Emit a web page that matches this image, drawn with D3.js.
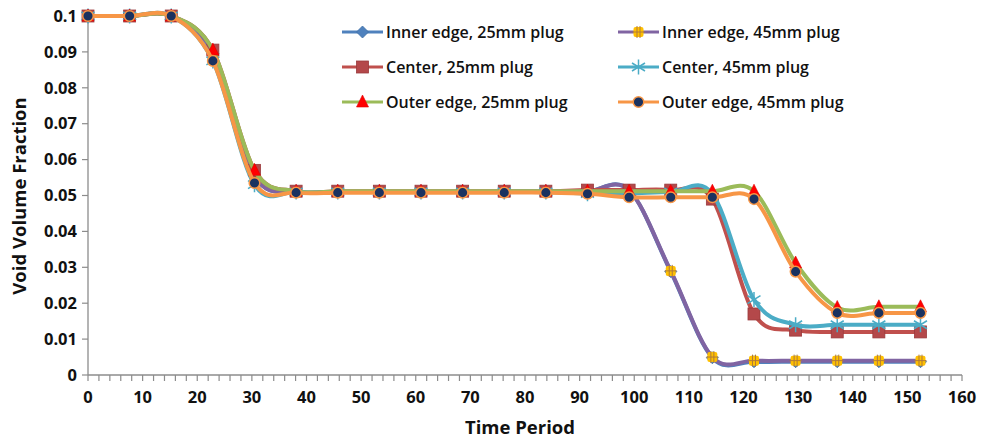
<!DOCTYPE html>
<html>
<head>
<meta charset="utf-8">
<script src="https://cdn.jsdelivr.net/npm/d3@7"></script>
<style>
  html, body { margin: 0; padding: 0; background: #fff; }
  svg { display: block; }
  text { font-family: "Open Sans", "DejaVu Sans", sans-serif; fill: #111; }
</style>
</head>
<body>
<svg id="chart" width="982" height="441"></svg>
<script>
// Sampling times (time period)
const times = [0, 7.62, 15.24, 22.86, 30.48, 38.1, 45.72, 53.34, 60.96, 68.58, 76.2,
               83.82, 91.44, 99.06, 106.68, 114.3, 121.92, 129.54, 137.16, 144.78, 152.4];

// Void volume fraction per position and plug size
const innerEdge25 = [0.1, 0.1, 0.1, 0.0895, 0.0555, 0.051, 0.051, 0.051, 0.051, 0.051, 0.051,
                     0.051, 0.0512, 0.0515, 0.0288, 0.0048, 0.0037, 0.0037, 0.0037, 0.0037, 0.0037];
const center25    = [0.1, 0.1, 0.1, 0.0905, 0.057, 0.0512, 0.0512, 0.0512, 0.0512, 0.0512, 0.0512,
                     0.0512, 0.0515, 0.0515, 0.0515, 0.049, 0.017, 0.0125, 0.012, 0.012, 0.012];
const outerEdge25 = [0.1, 0.1, 0.1, 0.0905, 0.057, 0.0512, 0.0512, 0.0512, 0.0512, 0.0512, 0.0512,
                     0.0512, 0.0512, 0.0512, 0.0512, 0.0512, 0.0512, 0.0312, 0.0188, 0.019, 0.019];
const innerEdge45 = [0.1, 0.1, 0.1, 0.0895, 0.0555, 0.051, 0.051, 0.051, 0.051, 0.051, 0.051,
                     0.051, 0.0512, 0.0515, 0.029, 0.005, 0.004, 0.004, 0.004, 0.004, 0.004];
const center45    = [0.1, 0.1, 0.1, 0.0875, 0.053, 0.051, 0.051, 0.051, 0.051, 0.051, 0.051,
                     0.051, 0.0505, 0.0505, 0.051, 0.0505, 0.021, 0.014, 0.014, 0.014, 0.014];
const outerEdge45 = [0.1, 0.1, 0.1, 0.0875, 0.0535, 0.0508, 0.0508, 0.0508, 0.0508, 0.0508, 0.0508,
                     0.0508, 0.0505, 0.0495, 0.0495, 0.0495, 0.049, 0.0288, 0.0173, 0.0173, 0.0173];

// Axis ticks
const xTicks = [0, 10, 20, 30, 40, 50, 60, 70, 80, 90, 100, 110, 120, 130, 140, 150, 160];
const yTicks = [0, 0.01, 0.02, 0.03, 0.04, 0.05, 0.06, 0.07, 0.08, 0.09, 0.1];
const yTickLabels = ["0", "0.01", "0.02", "0.03", "0.04", "0.05", "0.06", "0.07", "0.08", "0.09", "0.1"];

const seriesNames = ["Inner edge, 25mm plug", "Center, 25mm plug", "Outer edge, 25mm plug",
                     "Inner edge, 45mm plug", "Center, 45mm plug", "Outer edge, 45mm plug"];

const series = [
  { name: seriesNames[0], values: innerEdge25, color: "#4F81BD", marker: "diamond" },
  { name: seriesNames[1], values: center25,    color: "#C0504D", marker: "square" },
  { name: seriesNames[2], values: outerEdge25, color: "#9BBB59", marker: "triangle" },
  { name: seriesNames[3], values: innerEdge45, color: "#8064A2", marker: "plus" },
  { name: seriesNames[4], values: center45,    color: "#4BACC6", marker: "star" },
  { name: seriesNames[5], values: outerEdge45, color: "#F79646", marker: "circle" }
];
// paint order: later series on top
const drawOrder = [0, 3, 1, 4, 2, 5];

const svg = d3.select("#chart");
svg.append("rect").attr("width", 982).attr("height", 441).attr("fill", "#fff");

const x = d3.scaleLinear().domain([0, 160]).range([88, 962]);
const y = d3.scaleLinear().domain([0, 0.1]).range([375, 16]);

const axisColor = "#8c8c8c";

// X axis: minor ticks every 2 units, labels every 10
const xAxis = svg.append("g").attr("transform", `translate(0,${y(0)})`);
xAxis.append("line").attr("x1", x(0)).attr("x2", x(160)).attr("stroke", axisColor).attr("stroke-width", 1.3);
xAxis.selectAll("line.minor").data(d3.range(0, 161, 2)).join("line")
  .attr("class", "minor")
  .attr("x1", d => x(d)).attr("x2", d => x(d))
  .attr("y1", 0).attr("y2", 6)
  .attr("stroke", axisColor).attr("stroke-width", 1.2);
xAxis.selectAll("text").data(xTicks).join("text")
  .attr("x", d => x(d)).attr("y", 28)
  .attr("text-anchor", "middle")
  .attr("font-size", 16.5).attr("font-weight", 700)
  .text(d => d);

// Y axis
const yAxis = svg.append("g").attr("transform", `translate(${x(0)},0)`);
yAxis.append("line").attr("y1", y(0)).attr("y2", y(0.1)).attr("stroke", axisColor).attr("stroke-width", 1.3);
yAxis.selectAll("line.tick").data(yTicks).join("line")
  .attr("class", "tick")
  .attr("x1", -6).attr("x2", 0)
  .attr("y1", d => y(d)).attr("y2", d => y(d))
  .attr("stroke", axisColor).attr("stroke-width", 1.2);
yAxis.selectAll("text").data(yTicks).join("text")
  .attr("x", -11).attr("y", d => y(d))
  .attr("dy", "0.35em")
  .attr("text-anchor", "end")
  .attr("font-size", 16.5).attr("font-weight", 700)
  .text((d, i) => yTickLabels[i]);

// Axis titles
svg.append("text")
  .attr("x", 520).attr("y", 434)
  .attr("text-anchor", "middle")
  .attr("font-size", 18.5).attr("font-weight", 700)
  .text("Time Period");
svg.append("text")
  .attr("transform", `translate(26,${196}) rotate(-90)`)
  .attr("text-anchor", "middle")
  .attr("font-size", 18.5).attr("font-weight", 700)
  .text("Void Volume Fraction");

// Marker drawing
function drawMarker(g, type, color) {
  switch (type) {
    case "diamond":
      g.append("path").attr("d", "M0,-6L6,0L0,6L-6,0Z").attr("fill", color).attr("stroke", "#3f6ea5").attr("stroke-width", 0.8);
      break;
    case "square":
      g.append("rect").attr("x", -6).attr("y", -6).attr("width", 12).attr("height", 12)
        .attr("fill", "#b4484a").attr("stroke", "#9a3a3c").attr("stroke-width", 0.8);
      break;
    case "triangle":
      g.append("path").attr("d", "M0,-7L6,5L-6,5Z").attr("fill", "#ff0000").attr("stroke", "#e00000").attr("stroke-width", 0.6);
      break;
    case "plus":
      g.append("rect").attr("x", -5).attr("y", -5).attr("width", 10).attr("height", 10).attr("rx", 2)
        .attr("fill", "#ffc000");
      g.append("path").attr("d", "M-1.5,-6V6M1.5,-6V6M-6,0H6").attr("stroke", "#b07a3a").attr("stroke-width", 1);
      break;
    case "star":
      g.append("path").attr("d", "M0,-7.5V7.5M-6.5,-4L6.5,4M-6.5,4L6.5,-4").attr("stroke", color).attr("stroke-width", 1.5);
      break;
    case "circle":
      g.append("circle").attr("r", 5.3).attr("fill", "#1a3260").attr("stroke", color).attr("stroke-width", 1.5);
      break;
  }
}

const line = d3.line()
  .x((d, i) => x(times[i]))
  .y(d => y(d))
  .curve(d3.curveCatmullRom.alpha(0));

const plot = svg.append("g");
drawOrder.forEach(k => {
  const s = series[k];
  const g = plot.append("g");
  g.append("path")
    .attr("d", line(s.values))
    .attr("fill", "none")
    .attr("stroke", s.color)
    .attr("stroke-width", 4)
    .attr("stroke-linejoin", "round");
  s.values.forEach((v, i) => {
    const mg = g.append("g").attr("transform", `translate(${x(times[i])},${y(v)})`);
    drawMarker(mg, s.marker, s.color);
  });
});

// Legend (two columns, three rows)
const legendCols = [342, 618];
const legendRows = [32, 67, 102];
const legend = svg.append("g");
series.forEach((s, i) => {
  const col = Math.floor(i / 3), row = i % 3;
  const lx = legendCols[col], ly = legendRows[row];
  const g = legend.append("g").attr("transform", `translate(${lx},${ly})`);
  g.append("line").attr("x1", 0).attr("x2", 41).attr("stroke", s.color).attr("stroke-width", 3);
  drawMarker(g.append("g").attr("transform", "translate(20.5,0)"), s.marker, s.color);
  g.append("text").attr("x", 44).attr("dy", "0.35em")
    .attr("font-size", 16).attr("font-weight", 600)
    .text(s.name);
});
</script>
</body>
</html>
